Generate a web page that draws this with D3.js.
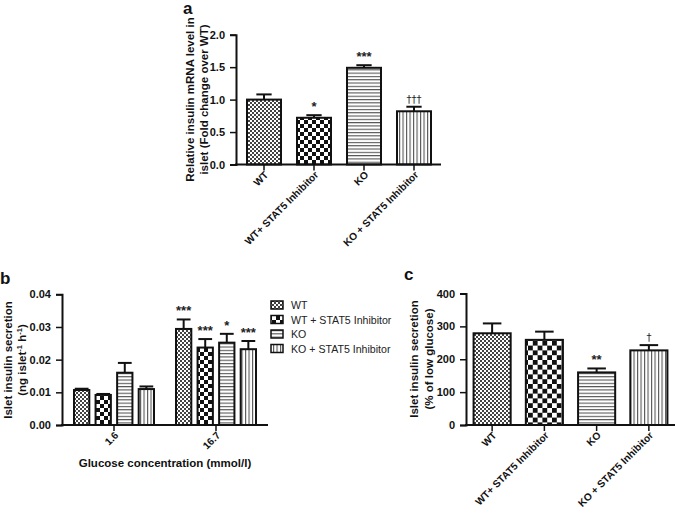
<!DOCTYPE html>
<html><head><meta charset="utf-8">
<script src="https://cdn.jsdelivr.net/npm/d3@7"></script>
<style>
body{margin:0;background:#fff;}
svg{display:block;font-family:"Liberation Sans",Arial,sans-serif;}
</style></head>
<body><svg id="c" width="675" height="516"></svg>
<script>
// ---------- data ----------
const categories = ["WT", "WT+ STAT5 Inhibitor", "KO", "KO + STAT5 Inhibitor"];
const seriesKeys = ["wt", "wtInh", "ko", "koInh"];
const legendLabels = ["WT", "WT + STAT5 Inhibitor", "KO", "KO + STAT5 Inhibitor"];

// panel a
const mrnaMean = [1.00, 0.72, 1.49, 0.82];
const mrnaErr  = [0.08, 0.04, 0.04, 0.07];
const mrnaSig  = ["", "*", "***", "†††"];
const mrnaTicks = [0, 0.5, 1.0, 1.5, 2.0];

// panel b
const glucose = ["1.6", "16.7"];
const secMean = { wt:[0.0107, 0.0294], wtInh:[0.0092, 0.0237], ko:[0.0160, 0.0252], koInh:[0.0110, 0.0232] };
const secErr  = { wt:[0.0004, 0.0029], wtInh:[0.0003, 0.0026], ko:[0.0030, 0.0027], koInh:[0.0008, 0.0025] };
const secSig  = { wt:["", "***"], wtInh:["", "***"], ko:["", "*"], koInh:["", "***"] };
const secTicks = [0, 0.01, 0.02, 0.03, 0.04];

// panel c
const pctMean = [279, 259, 160, 227];
const pctErr  = [30, 25, 12, 16];
const pctSig  = ["", "", "**", "†"];
const pctTicks = [0, 100, 200, 300, 400];

// ---------- drawing ----------
const svg = d3.select("#c");
const ink = "#111";
const defs = svg.append("defs");

function makePatterns(suffix, checker){
  let p = defs.append("pattern").attr("id","wt"+suffix).attr("patternUnits","userSpaceOnUse").attr("width",4).attr("height",4);
  p.append("rect").attr("width",4).attr("height",4).attr("fill","#fff");
  p.append("rect").attr("width",2).attr("height",2).attr("fill","#444");
  p.append("rect").attr("x",2).attr("y",2).attr("width",2).attr("height",2).attr("fill","#444");
  const s = checker;
  p = defs.append("pattern").attr("id","wtInh"+suffix).attr("patternUnits","userSpaceOnUse").attr("width",2*s).attr("height",2*s);
  p.append("rect").attr("width",2*s).attr("height",2*s).attr("fill","#fff");
  p.append("rect").attr("width",s).attr("height",s).attr("fill","#111");
  p.append("rect").attr("x",s).attr("y",s).attr("width",s).attr("height",s).attr("fill","#111");
  p = defs.append("pattern").attr("id","ko"+suffix).attr("patternUnits","userSpaceOnUse").attr("width",4).attr("height",3.3);
  p.append("rect").attr("width",4).attr("height",3.3).attr("fill","#fff");
  p.append("rect").attr("width",4).attr("height",1.1).attr("fill","#555");
  p = defs.append("pattern").attr("id","koInh"+suffix).attr("patternUnits","userSpaceOnUse").attr("width",3.5).attr("height",4);
  p.append("rect").attr("width",3.5).attr("height",4).attr("fill","#fff");
  p.append("rect").attr("width",1.1).attr("height",4).attr("fill","#555");
}
makePatterns("A", 4);
makePatterns("C", 4.8);

function yAxis(g, y, x0, ticks, fmt){
  const ax = g.append("g").attr("transform",`translate(${x0},0)`)
    .call(d3.axisLeft(y).tickValues(ticks).tickFormat(fmt).tickSize(6).tickPadding(5));
  ax.select(".domain").attr("stroke",ink).attr("stroke-width",2);
  ax.selectAll(".tick line").attr("stroke",ink).attr("stroke-width",1.5);
  ax.selectAll(".tick text").attr("fill",ink).attr("font-size",11).attr("font-weight","bold").attr("font-family","Liberation Sans, Arial, sans-serif");
}

function xAxisLine(g, x0, x1, y0, tickXs){
  g.append("line").attr("x1",x0).attr("x2",x1).attr("y1",y0).attr("y2",y0).attr("stroke",ink).attr("stroke-width",2);
  tickXs.forEach(t=>g.append("line").attr("x1",t).attr("x2",t).attr("y1",y0).attr("y2",y0+6).attr("stroke",ink).attr("stroke-width",1.5));
}

function rotatedLabels(g, labels, xs, y0){
  labels.forEach((l,i)=>{
    g.append("text").attr("transform",`translate(${xs[i]+5},${y0+11}) rotate(-45)`)
      .attr("text-anchor","end").attr("font-size",10.2).attr("font-weight","bold").attr("fill",ink).text(l);
  });
}

function bars(g, data, x, y, w, patternFor, capFrac){
  data.forEach(d=>{
    const bx = x(d), top = y(d.v), base = y(0);
    g.append("rect").attr("x",bx).attr("y",top).attr("width",w).attr("height",base-top)
      .attr("fill",`url(#${patternFor(d)})`).attr("stroke",ink).attr("stroke-width",2);
    const cx = bx + w/2, ey = y(d.v + d.e);
    g.append("line").attr("x1",cx).attr("x2",cx).attr("y1",top).attr("y2",ey).attr("stroke",ink).attr("stroke-width",2);
    g.append("line").attr("x1",cx-w*capFrac/2).attr("x2",cx+w*capFrac/2).attr("y1",ey).attr("y2",ey).attr("stroke",ink).attr("stroke-width",2);
    if(d.s){
      const dag = d.s.startsWith("†");
      g.append("text").attr("x",cx).attr("y",ey-4).attr("text-anchor","middle")
        .attr("font-family", dag ? "DejaVu Sans, sans-serif" : null)
        .attr("font-size",dag?10:13).attr("font-weight",dag?"normal":"bold")
        .attr("fill","#222").style("fill","#222").text(d.s);
    }
  });
}

function yTitle(g, lines, xs, yc){
  lines.forEach((l,i)=>{
    const t = g.append("text").attr("transform",`translate(${xs[i]},${yc}) rotate(-90)`)
      .attr("text-anchor","middle").attr("font-size",11.5).attr("font-weight","bold").attr("fill",ink);
    if (Array.isArray(l)) l.forEach(seg=>{
      const ts = t.append("tspan").text(seg.t);
      if(seg.sup) ts.attr("baseline-shift","super").attr("font-size",7.5);
    }); else t.text(l);
  });
}

// ---------- panel a ----------
{
  const g = svg.append("g");
  const y = d3.scaleLinear().domain([0,2]).range([164.5,34.7]);
  const x = d3.scaleBand().domain(categories).range([239,439]).paddingInner(0.32).paddingOuter(0.16);
  const data = categories.map((c,i)=>({c, k:seriesKeys[i], v:mrnaMean[i], e:mrnaErr[i], s:mrnaSig[i]}));
  bars(g, data, d=>x(d.c), y, x.bandwidth(), d=>d.k+"A", 0.45);
  yAxis(g, y, 236, mrnaTicks, d3.format(".1f"));
  const cxs = categories.map(c=>x(c)+x.bandwidth()/2);
  xAxisLine(g, 235, 441, y(0), cxs);
  rotatedLabels(g, categories, cxs, y(0));
  yTitle(g, ["Relative insulin mRNA level in", "islet (Fold change over WT)"], [194, 208], 99.5);
  g.append("text").attr("x",183).attr("y",14).attr("font-size",17).attr("font-weight","bold").attr("fill",ink).text("a");
}

// ---------- panel b ----------
{
  const g = svg.append("g");
  const y = d3.scaleLinear().domain([0,0.04]).range([425,294.3]);
  const x0 = d3.scaleBand().domain(glucose).range([63,267]);
  const x1 = d3.scaleBand().domain(seriesKeys).range([11,91]).paddingInner(0.29);
  const data = [];
  glucose.forEach((gl,gi)=>seriesKeys.forEach(k=>data.push({gl, k, v:secMean[k][gi], e:secErr[k][gi], s:secSig[k][gi]})));
  bars(g, data, d=>x0(d.gl)+x1(d.k), y, x1.bandwidth(), d=>d.k+"A", 0.9);
  yAxis(g, y, 62, secTicks, d3.format(".2f"));
  const cxs = glucose.map(gl=>x0(gl)+x0.bandwidth()/2);
  xAxisLine(g, 61, 268, y(0), cxs);
  rotatedLabels(g, glucose, cxs, y(0));
  g.append("text").attr("x",165).attr("y",467).attr("text-anchor","middle").attr("font-size",11.5).attr("font-weight","bold").attr("fill",ink).text("Glucose concentration (mmol/l)");
  yTitle(g, ["Islet insulin secretion", [{t:"(ng islet"},{t:"-1",sup:true},{t:" h"},{t:"-1",sup:true},{t:")"}]], [12, 26], 360);
  g.append("text").attr("x",0).attr("y",284).attr("font-size",17).attr("font-weight","bold").attr("fill",ink).text("b");
  const lg = g.append("g");
  legendLabels.forEach((l,i)=>{
    const yy = 305 + i*14.5;
    lg.append("rect").attr("x",271).attr("y",yy-4).attr("width",12).attr("height",8)
      .attr("fill",`url(#${seriesKeys[i]}A)`).attr("stroke",ink).attr("stroke-width",1.5);
    lg.append("text").attr("x",291).attr("y",yy+4).attr("font-size",10.6).attr("fill","#222").text(l);
  });
}

// ---------- panel c ----------
{
  const g = svg.append("g");
  const y = d3.scaleLinear().domain([0,400]).range([425,293.5]);
  const x = d3.scaleBand().domain(categories).range([466,675]).paddingInner(0.29).paddingOuter(0.145);
  const data = categories.map((c,i)=>({c, k:seriesKeys[i], v:pctMean[i], e:pctErr[i], s:pctSig[i]}));
  bars(g, data, d=>x(d.c), y, x.bandwidth(), d=>d.k+"C", 0.5);
  yAxis(g, y, 466, pctTicks, d3.format("d"));
  const cxs = categories.map(c=>x(c)+x.bandwidth()/2);
  xAxisLine(g, 465, 675, y(0), cxs);
  rotatedLabels(g, categories, cxs, y(0));
  yTitle(g, ["Islet insulin secretion", "(% of low glucose)"], [418, 433], 359);
  g.append("text").attr("x",404).attr("y",280).attr("font-size",17).attr("font-weight","bold").attr("fill",ink).text("c");
}
</script></body></html>
